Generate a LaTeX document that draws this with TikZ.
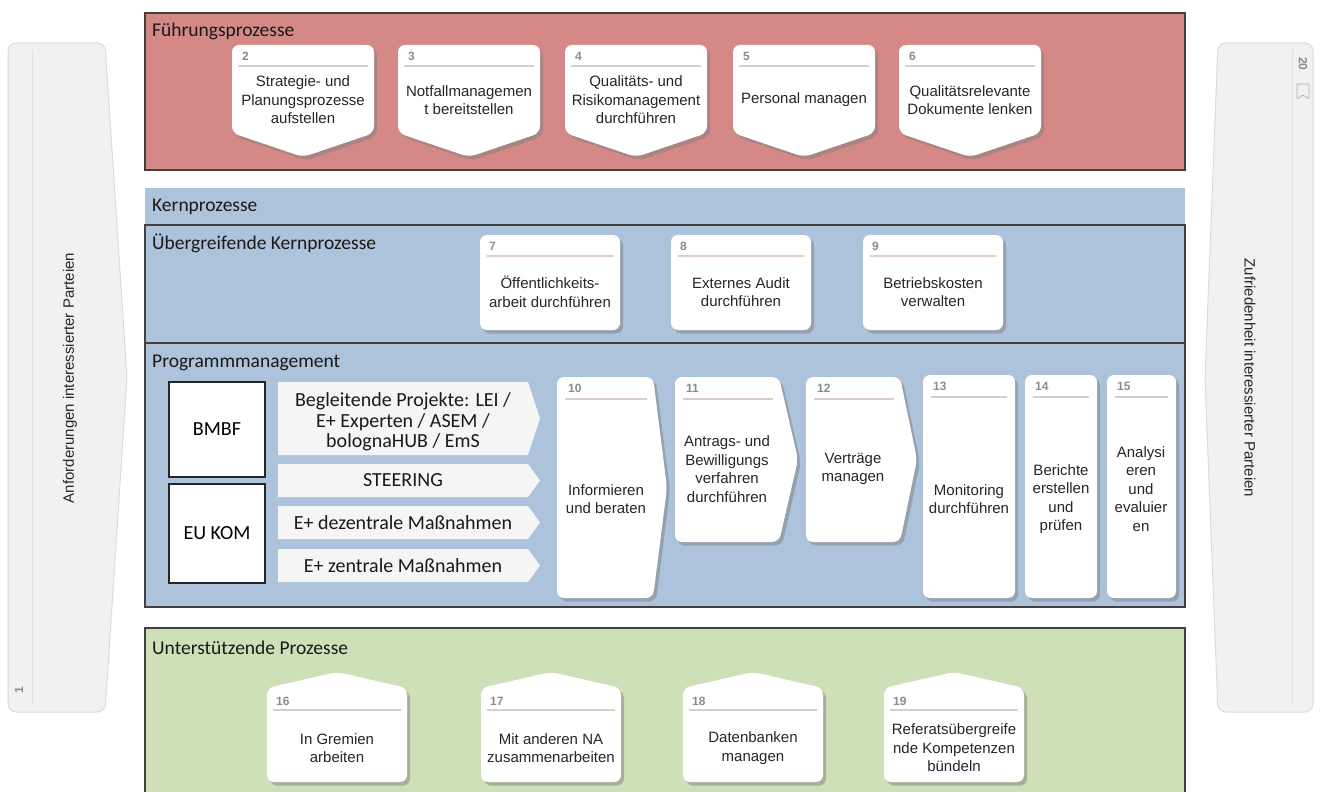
\documentclass[tikz,border=0pt]{standalone}
\usepackage{fontspec}
\setmainfont{Liberation Sans}
\newfontfamily\calibfont{Carlito}
\usetikzlibrary{shadows}
\definecolor{leadred}{RGB}{213,137,134}
\definecolor{coreblue}{RGB}{172,195,219}
\definecolor{suppgreen}{RGB}{205,224,184}
\definecolor{panelgray}{RGB}{241,241,241}
\definecolor{numline}{RGB}{220,205,198}

\begin{document}
\begin{tikzpicture}[x=1pt,y=-1pt,
  lane/.style={draw=black!75, line width=1.3pt},
  lanetitle/.style={anchor=west, inner sep=0pt, font=\calibfont\fontsize{19.5}{22}\selectfont, text=black!90},
  procbox/.style={fill=white, rounded corners=7pt, drop shadow={shadow xshift=3pt, shadow yshift=-3.5pt, fill=black!50}},
  proctext/.style={font=\fontsize{15}{18.5}\selectfont, align=center, text=black!85},
  procnum/.style={anchor=west, inner sep=0pt, font=\bfseries\fontsize{12}{13}\selectfont, text=black!45},
  sepline/.style={draw=numline, line width=1.3pt},
  panel/.style={fill=panelgray, draw=black!14, line width=1pt, rounded corners=8pt},
  paneltext/.style={font=\fontsize{15}{18}\selectfont, text=black!85},
  feedbox/.style={fill=white!96!black},
  feedtext/.style={font=\calibfont\fontsize{20}{20.5}\selectfont, align=center, text=black!90},
  clientbox/.style={fill=white, draw=black!85, line width=1.3pt, font=\calibfont\fontsize{20}{22}\selectfont}]
\useasboundingbox (0,0) rectangle (1320,792);
\clip (0,0) rectangle (1320,792);

% side panels
\path[panel] (8,43) -- (105,43) -- (127,378) -- (105,712) -- (8,712) -- cycle;
\draw[black!12, line width=1pt] (32,50) -- (32,704);
\node[paneltext, rotate=90] (demand) at (70,378) {Anforderungen interessierter Parteien};
\node[procnum, anchor=center, rotate=90] (n1) at (19,690) {1};
\path[panel] (1218,43) -- (1313,43) -- (1313,712) -- (1218,712) -- (1205,378) -- cycle;
\draw[black!12, line width=1pt] (1292,50) -- (1292,704);
\node[paneltext, rotate=-90] (satisfy) at (1250,378) {Zufriedenheit interessierter Parteien};
\node[procnum, anchor=center, rotate=-90] (n20) at (1303,64) {20};
\draw[black!30, line width=0.8pt, rounded corners=1pt] (1297,84) -- (1309,84) -- (1309,99) -- (1303,95) -- (1297,99) -- cycle;

% lanes
\path[lane, fill=leadred] (145,13) rectangle (1185,170);
\node[lanetitle] (leadT) at (152,31) {Führungsprozesse};
\fill[coreblue] (145,188) rectangle (1185,225);
\node[lanetitle] (coreT) at (152,207) {Kernprozesse};
\path[lane, fill=coreblue] (145,225) rectangle (1185,343);
\node[lanetitle] (crossT) at (152,243) {Übergreifende Kernprozesse};
\path[lane, fill=coreblue] (145,343) rectangle (1185,607);
\node[lanetitle] (progT) at (152,363) {Programmmanagement};
\path[lane, fill=suppgreen] (145,628) rectangle (1185,800);
\node[lanetitle] (suppT) at (152,648) {Unterstützende Prozesse};

% Fuehrungsprozesse
\foreach \cx/\n/\txt in {303/2/{Strategie- und\\Planungsprozesse\\aufstellen},
    469/3/{Notfallmanagemen\\t bereitstellen}, 636/4/{Qualitäts- und\\Risikomanagement\\durchführen},
    804/5/{Personal managen}, 970/6/{Qualitätsrelevante\\Dokumente lenken}} {
  \path[procbox] (\cx-71,45) -- (\cx+71,45) -- (\cx+71,133) -- (\cx,157) -- (\cx-71,133) -- cycle;
  \draw[sepline] (\cx-65,66) -- (\cx+65,66);
  \node[procnum] (n\n) at (\cx-61,56) {\n};
  \node[proctext] (p\n) at (\cx,100) {\txt};
}

% uebergreifende Kernprozesse
\foreach \cx/\n/\txt in {550/7/{Öffentlichkeits-\\arbeit durchführen},
    741/8/{Externes Audit\\durchführen}, 933/9/{Betriebskosten\\verwalten}} {
  \path[procbox] (\cx-70,235) rectangle (\cx+70,330);
  \draw[sepline] (\cx-63,256) -- (\cx+63,256);
  \node[procnum] (n\n) at (\cx-61,246) {\n};
  \node[proctext] (p\n) at (\cx,292) {\txt};
}

% Programmmanagement
\node[clientbox, minimum width=96pt, minimum height=95pt] (bmbf) at (217,429.5) {BMBF};
\node[clientbox, minimum width=96pt, minimum height=99pt] (eukom) at (217,533.5) {EU KOM};
\foreach \t/\b in {382/455, 464/497, 506/539, 549/582}
  \path[feedbox] (278,\t) -- (528,\t) -- ({540},{(\t+\b)/2}) -- (528,\b) -- (278,\b) -- cycle;
\node[feedtext] (lei) at (403,422) {Begleitende Projekte: LEI /\\E+ Experten / ASEM /\\bolognaHUB / EmS};
\node[feedtext] (steer) at (403,480.5) {STEERING};
\node[feedtext] (dez) at (403,522.5) {E+ dezentrale Maßnahmen};
\node[feedtext] (zen) at (403,565.5) {E+ zentrale Maßnahmen};

\foreach \l/\r/\tip/\b/\n in {557/653/667/598/10, 675/779/798/542/11, 806/900/917/542/12} {
  \path[procbox] (\l,377) -- (\r,377) -- ({\tip},{(377+\b)/2}) -- (\r,\b) -- (\l,\b) -- cycle;
  \draw[sepline] (\l+8,399) -- (\r-6,399);
  \node[procnum] (n\n) at (\l+11,388) {\n};
}
\foreach \l/\r/\n in {923/1015/13, 1025/1097/14, 1107/1176/15} {
  \path[procbox] (\l,375) rectangle (\r,598);
  \draw[sepline] (\l+8,397) -- (\r-8,397);
  \node[procnum] (n\n) at (\l+10,386) {\n};
}
\node[proctext] (p10) at (606,499) {Informieren\\und beraten};
\node[proctext] (p11) at (727,469) {Antrags- und\\Bewilligungs\\verfahren\\durchführen};
\node[proctext] (p12) at (853,469) {Verträge\\managen};
\node[proctext] (p13) at (969,499) {Monitoring\\durchführen};
\node[proctext] (p14) at (1061,499) {Berichte\\erstellen\\und\\prüfen};
\node[proctext] (p15) at (1141,489) {Analysi\\eren\\und\\evaluier\\en};

% unterstuetzende Prozesse
\foreach \cx/\n/\txt in {337/16/{In Gremien\\arbeiten}, 551/17/{Mit anderen NA\\zusammenarbeiten},
    753/18/{Datenbanken\\managen}, 954/19/{Referatsübergreife\\nde Kompetenzen\\bündeln}} {
  \path[procbox] (\cx-70,688) -- (\cx,672) -- (\cx+70,688) -- (\cx+70,782) -- (\cx-70,782) -- cycle;
  \draw[sepline] (\cx-64,710) -- (\cx+64,710);
  \node[procnum] (n\n) at (\cx-61,701) {\n};
  \node[proctext] (p\n) at (\cx,748) {\txt};
}
\end{tikzpicture}
\end{document}
